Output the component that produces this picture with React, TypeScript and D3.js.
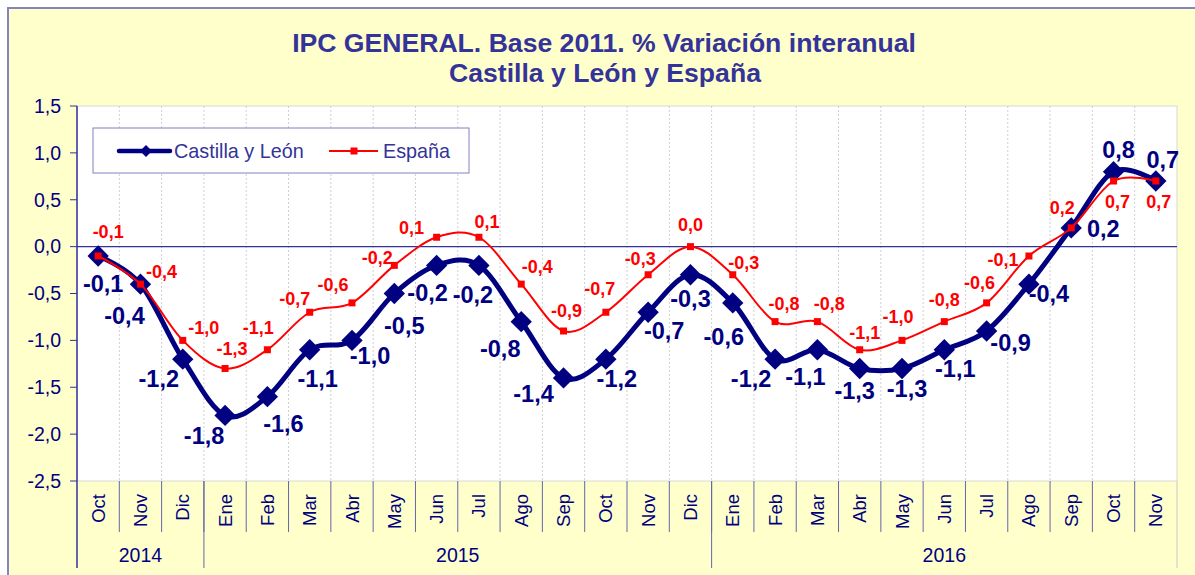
import React from "react";
import * as d3 from "d3";

// meses y años del eje
const months = [
  "Oct", "Nov", "Dic",
  "Ene", "Feb", "Mar", "Abr", "May", "Jun", "Jul", "Ago", "Sep", "Oct", "Nov", "Dic",
  "Ene", "Feb", "Mar", "Abr", "May", "Jun", "Jul", "Ago", "Sep", "Oct", "Nov",
];
const years = [
  { label: "2014", count: 3 },
  { label: "2015", count: 12 },
  { label: "2016", count: 11 },
];

const castilla = [
  -0.1, -0.4, -1.2,
  -1.8, -1.6, -1.1, -1.0, -0.5, -0.2, -0.2, -0.8, -1.4, -1.2, -0.7, -0.3,
  -0.6, -1.2, -1.1, -1.3, -1.3, -1.1, -0.9, -0.4, 0.2, 0.8, 0.7,
];
const espana = [
  -0.1, -0.4, -1.0,
  -1.3, -1.1, -0.7, -0.6, -0.2, 0.1, 0.1, -0.4, -0.9, -0.7, -0.3, 0.0,
  -0.3, -0.8, -0.8, -1.1, -1.0, -0.8, -0.6, -0.1, 0.2, 0.7, 0.7,
];
const yTicks = [1.5, 1.0, 0.5, 0.0, -0.5, -1.0, -1.5, -2.0, -2.5];

// desplazamiento de las etiquetas respecto al punto [dx, dy]
const castillaLabelOffset = [
  [5, 28], [-16, 32], [-24, 20],
  [-21, 20], [16, 27], [8, 29], [18, 15], [10, 32], [-9, 27], [-6, 29], [-21, 27], [-30, 16], [11, 20], [16, 19], [0, 24],
  [-9, 34], [-24, 20], [-12, 27], [-5, 22], [5, 20], [11, 19], [24, 12], [20, 10], [32, 1], [5, -22], [7, -21],
];
const espanaLabelOffset = [
  [10, -24], [21, -12], [21, -13],
  [7, -20], [-9, -22], [-15, -14], [-19, -18], [-17, -8], [-25, -10], [8, -16], [16, -17], [3, -20], [-6, -24], [-8, -16], [0, -22],
  [11, -12], [9, -18], [12, -18], [5, -17], [-4, -24], [0, -22], [-7, -20], [-26, 4], [-9, -20], [4, 21], [3, 21],
];

const W = 1195;
const H = 575;
const plot = { left: 77, right: 1177, top: 106, bottom: 481 };
const font = "'Liberation Sans', Arial, sans-serif";
const navy = "#000080";
const purple = "#333399";

const fmt = (v: number) => v.toFixed(1).replace(".", ",");

export default function App() {
  const x = d3
    .scaleBand<number>()
    .domain(months.map((_, i) => i))
    .range([plot.left, plot.right])
    .padding(0);
  const bw = x.bandwidth();
  const cx = (i: number) => (x(i) as number) + bw / 2;
  const y = d3.scaleLinear().domain([-2.5, 1.5]).range([plot.bottom, plot.top]);

  const line = d3
    .line<number>()
    .x((_, i) => cx(i))
    .y((d) => y(d))
    .curve(d3.curveCatmullRom.alpha(0));

  const diamond = d3.symbol().type(d3.symbolDiamond2).size(290)();
  const diamondSmall = d3.symbol().type(d3.symbolDiamond2).size(90)();

  // límites de los grupos de año
  let acc = 0;
  const yearBounds = years.map((g) => {
    const start = acc;
    acc += g.count;
    return { ...g, start, end: acc };
  });
  const xEdge = (k: number) => plot.left + k * bw;

  return (
    <div style={{ position: "absolute", left: 0, top: 0 }}>
      <svg width={W} height={H} style={{ display: "block" }} fontFamily={font}>
        <rect x={0} y={0} width={W} height={H} fill="#ffffff" />
        <rect x={8} y={8} width={W} height={H} fill="#FFFFCC" stroke="#8585BD" strokeWidth={2} />

        {/* título */}
        <text x={604} y={52} textAnchor="middle" fontSize={26.6} fontWeight="bold" fill={purple}>
          IPC GENERAL. Base 2011. % Variación interanual
        </text>
        <text x={605} y={82} textAnchor="middle" fontSize={26.6} fontWeight="bold" fill={purple}>
          Castilla y León y España
        </text>

        {/* área de trazado */}
        <rect
          x={plot.left}
          y={plot.top}
          width={plot.right - plot.left}
          height={plot.bottom - plot.top}
          fill="#ffffff"
          stroke="#d8d8d8"
          strokeWidth={1}
        />
        {months.slice(1).map((_, k) => (
          <line
            key={"g" + k}
            x1={xEdge(k + 1)}
            x2={xEdge(k + 1)}
            y1={plot.top}
            y2={plot.bottom}
            stroke="#cfcfcf"
            strokeDasharray="2,2"
          />
        ))}

        {/* eje Y */}
        <line x1={plot.left} x2={plot.left} y1={plot.top} y2={568} stroke={purple} strokeWidth={1.5} />
        {yTicks.map((t) => (
          <g key={"t" + t}>
            <line x1={plot.left - 7} x2={plot.left} y1={y(t)} y2={y(t)} stroke={purple} />
            <text x={61} y={y(t)} dy="0.35em" textAnchor="end" fontSize={19.5} fill={navy}>
              {fmt(t)}
            </text>
          </g>
        ))}

        {/* línea del cero */}
        <line x1={plot.left} x2={plot.right} y1={y(0)} y2={y(0)} stroke={purple} strokeWidth={1.2} />

        {/* etiquetas de categoría */}
        {months.map((m, i) => (
          <text
            key={"m" + i}
            transform={`translate(${cx(i) + 6.5},494) rotate(-90)`}
            textAnchor="end"
            fontSize={18.5}
            fill={navy}
          >
            {m}
          </text>
        ))}
        {months.slice(1).map((_, k) => (
          <line
            key={"s" + k}
            x1={xEdge(k + 1)}
            x2={xEdge(k + 1)}
            y1={plot.bottom}
            y2={532}
            stroke="#6666AA"
          />
        ))}
        {yearBounds.map((g) => (
          <g key={g.label}>
            <line
              x1={xEdge(g.end)}
              x2={xEdge(g.end)}
              y1={plot.bottom}
              y2={568}
              stroke={g.end === months.length ? "#c8c8c8" : "#6666AA"}
            />
            <text
              x={(xEdge(g.start) + xEdge(g.end)) / 2}
              y={562}
              textAnchor="middle"
              fontSize={19.5}
              fill={navy}
            >
              {g.label}
            </text>
          </g>
        ))}

        {/* series */}
        <path d={line(castilla) || ""} fill="none" stroke={navy} strokeWidth={5} strokeLinejoin="round" />
        {castilla.map((v, i) => (
          <path key={"cd" + i} d={diamond || ""} transform={`translate(${cx(i)},${y(v)})`} fill={navy} />
        ))}
        <path d={line(espana) || ""} fill="none" stroke="#FF0000" strokeWidth={2} />
        {espana.map((v, i) => (
          <rect key={"es" + i} x={cx(i) - 3.5} y={y(v) - 3.5} width={7} height={7} fill="#FF0000" />
        ))}

        {castilla.map((v, i) => (
          <text
            key={"cl" + i}
            x={cx(i) + castillaLabelOffset[i][0]}
            y={y(v) + castillaLabelOffset[i][1]}
            dy="0.35em"
            textAnchor="middle"
            fontSize={23.5}
            fontWeight="bold"
            fill={navy}
          >
            {fmt(v)}
          </text>
        ))}
        {espana.map((v, i) => (
          <text
            key={"el" + i}
            x={cx(i) + espanaLabelOffset[i][0]}
            y={y(v) + espanaLabelOffset[i][1]}
            dy="0.35em"
            textAnchor="middle"
            fontSize={18}
            fontWeight="bold"
            fill="#FF0000"
          >
            {fmt(v)}
          </text>
        ))}

        {/* leyenda */}
        <rect x={93} y={128} width={376} height={45} fill="#ffffff" stroke="#8080C0" />
        <line x1={119} x2={170} y1={151} y2={151} stroke={navy} strokeWidth={4.5} strokeLinecap="round" />
        <path d={diamondSmall || ""} transform="translate(146,151)" fill={navy} />
        <text x={174} y={158} fontSize={19.8} fill={purple}>
          Castilla y León
        </text>
        <line x1={329} x2={378} y1={151} y2={151} stroke="#FF0000" strokeWidth={2} />
        <rect x={350.5} y={147.5} width={7} height={7} fill="#FF0000" />
        <text x={383} y={158} fontSize={19.8} fill={purple}>
          España
        </text>
      </svg>
    </div>
  );
}
